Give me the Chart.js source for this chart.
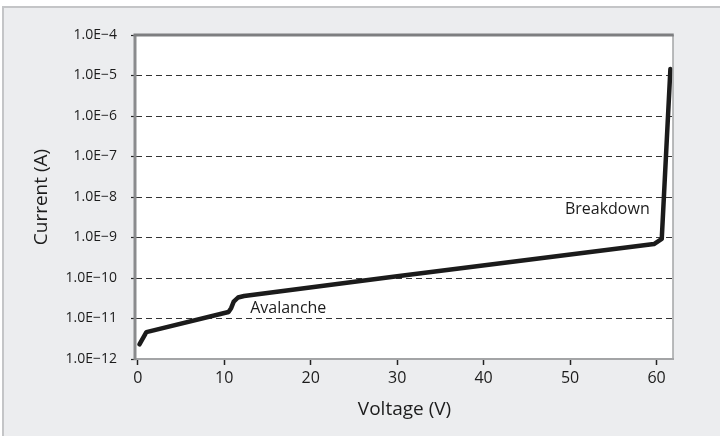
<!DOCTYPE html>
<html>
<head>
<meta charset="utf-8">
<script src="https://cdn.jsdelivr.net/npm/chart.js@4"></script>
<style>
html,body{margin:0;padding:0;background:#ffffff;}
#wrap{width:720px;height:436px;}
</style>
</head>
<body>
<div id="wrap"><canvas id="c" width="720" height="436"></canvas></div>
<script>
// ---- data ----
const voltage = [0.2, 1.0, 10.5, 10.8, 11.1, 11.6, 12.3, 30, 59.7, 60.6, 61.6];
const current = [2.3e-12, 4.6e-12, 1.45e-11, 1.8e-11, 2.6e-11, 3.3e-11, 3.6e-11, 1.1e-10, 6.9e-10, 9.2e-10, 1.45e-5];
const xTickValues = [0, 10, 20, 30, 40, 50, 60];
const yTickValues = [1e-12, 1e-11, 1e-10, 1e-9, 1e-8, 1e-7, 1e-6, 1e-5, 1e-4];
const yTickLabels = ["1.0E\u221212", "1.0E\u221211", "1.0E\u221210", "1.0E\u22129", "1.0E\u22128", "1.0E\u22127", "1.0E\u22126", "1.0E\u22125", "1.0E\u22124"];
const noteTexts = ["Avalanche", "Breakdown"];
const noteX = [13.0, 49.4];
const noteY = [1.8e-11, 4.8e-9];
const xTitle = "Voltage (V)";
const yTitle = "Current (A)";

const FONT = "'Open Sans', 'Noto Sans', sans-serif";
const TXT = '#1c1c1c';

const framePlugin = {
  id: 'frame',
  beforeDraw(chart) {
    const ctx = chart.ctx;
    const a = chart.chartArea;
    ctx.save();
    ctx.fillStyle = '#ffffff';
    ctx.fillRect(0, 0, chart.width, chart.height);
    ctx.fillStyle = '#ecedef';
    ctx.fillRect(2, 6, chart.width - 2, chart.height - 6);
    ctx.strokeStyle = '#c4c5c7';
    ctx.lineWidth = 2;
    ctx.beginPath();
    ctx.moveTo(3, chart.height);
    ctx.lineTo(3, 7);
    ctx.lineTo(chart.width, 7);
    ctx.stroke();
    ctx.fillStyle = '#ffffff';
    ctx.fillRect(a.left, a.top, a.right - a.left, a.bottom - a.top);
    ctx.restore();
  },
  afterDatasetsDraw(chart) {
    const ctx = chart.ctx;
    const a = chart.chartArea;
    ctx.save();
    ctx.setLineDash([]);
    // left axis, right and top border
    ctx.strokeStyle = '#8a8b8d';
    ctx.lineWidth = 3;
    ctx.beginPath();
    ctx.moveTo(a.left - 1, a.top);
    ctx.lineTo(a.left - 1, a.bottom + 1);
    ctx.stroke();
    ctx.strokeStyle = '#a3a4a6';
    ctx.lineWidth = 1.5;
    ctx.beginPath();
    ctx.moveTo(a.right, a.top);
    ctx.lineTo(a.right, a.bottom);
    ctx.stroke();
    ctx.strokeStyle = '#7d7e80';
    ctx.lineWidth = 3;
    ctx.beginPath();
    ctx.moveTo(a.left - 2.5, a.top);
    ctx.lineTo(a.right + 0.75, a.top);
    ctx.stroke();
    // annotations
    const xs = chart.scales.x, ys = chart.scales.y;
    ctx.fillStyle = TXT;
    ctx.font = "16px " + FONT;
    ctx.textAlign = 'left';
    ctx.textBaseline = 'middle';
    for (let i = 0; i < noteTexts.length; i++) {
      ctx.fillText(noteTexts[i], xs.getPixelForValue(noteX[i]), ys.getPixelForValue(noteY[i]));
    }
    ctx.restore();
  }
};

const points = voltage.map((v, i) => ({x: v, y: current[i]}));

new Chart(document.getElementById('c'), {
  type: 'line',
  data: {
    datasets: [{
      data: points,
      borderColor: '#1b1b1b',
      borderWidth: 4.5,
      pointRadius: 0,
      tension: 0,
      borderJoinStyle: 'round',
      borderCapStyle: 'round',
      fill: false
    }]
  },
  options: {
    responsive: false,
    animation: false,
    devicePixelRatio: 1,
    layout: {padding: {left: 0, top: 35, right: 47, bottom: 0}},
    plugins: {legend: {display: false}, tooltip: {enabled: false}},
    scales: {
      x: {
        type: 'linear',
        min: -0.2,
        max: 61.9,
        afterBuildTicks(scale) { scale.ticks = xTickValues.map(v => ({value: v})); },
        afterFit(scale) { scale.height = 77; },
        grid: {display: true, drawOnChartArea: false, drawTicks: true, tickLength: 6, tickColor: '#222222', tickWidth: 1.5},
        border: {display: true, color: '#a3a4a6', width: 2},
        ticks: {color: TXT, font: {family: FONT, size: 16}, padding: 4, maxRotation: 0},
        title: {display: true, text: xTitle, color: TXT, font: {family: FONT, size: 19}, padding: {top: 0, bottom: 15}}
      },
      y: {
        type: 'logarithmic',
        min: 1e-12,
        max: 1e-4,
        afterBuildTicks(scale) { scale.ticks = yTickValues.map(v => ({value: v})); },
        afterFit(scale) { scale.width = 136; },
        grid: {
          display: true,
          drawOnChartArea: true,
          drawTicks: true,
          tickLength: 5,
          tickColor: '#222222',
          tickWidth: 1.2,
          tickBorderDash: [],
          lineWidth: 1,
          color: (c) => (c.tick && (c.tick.value === 1e-12 || c.tick.value === 1e-4)) ? 'rgba(0,0,0,0)' : '#333333'
        },
        border: {display: false, dash: [6, 4]},
        ticks: {
          color: TXT,
          font: {family: FONT, size: 14},
          padding: 14,
          callback: (v, i) => yTickLabels[i]
        },
        title: {display: true, text: yTitle, color: TXT, font: {family: FONT, size: 19}, padding: {top: 30, bottom: 0}}
      }
    }
  },
  plugins: [framePlugin]
});
</script>
</body>
</html>
